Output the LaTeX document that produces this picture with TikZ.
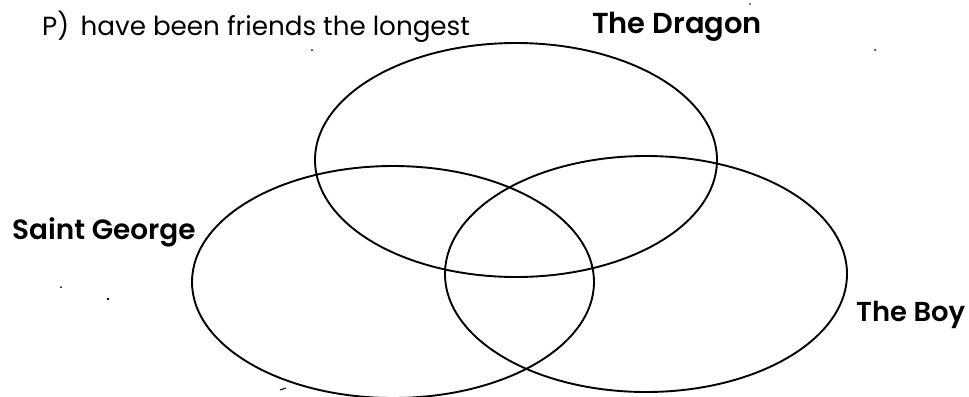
\documentclass[tikz,border=0pt]{standalone}
\usepackage{fontspec}
\setmainfont{Poppins}
\newfontfamily\lblfont{Poppins SemiBold}
\begin{document}
\begin{tikzpicture}[x=1bp,y=-1bp,
  venn/.style={line width=1.9bp,black},
  title/.style={font=\fontsize{26.3}{30}\selectfont,anchor=base west,inner sep=0pt},
  setlabel/.style={font=\lblfont\fontsize{28}{32}\selectfont,anchor=base west,inner sep=0pt},
  speck/.style={fill=black}]
\useasboundingbox (0,0) rectangle (969,396);
\clip (0,0) rectangle (969,396);
\fill[white] (0,0) rectangle (969,396);
% circles
\draw[venn] (516,160) ellipse [x radius=201, y radius=117];
\draw[venn] (393,282) ellipse [x radius=201, y radius=116];
\draw[venn] (646,274) ellipse [x radius=201, y radius=118];
% texts
\node[title] (q) at (42,35) {P)\, have been friends the longest};
\node[setlabel,font=\lblfont\fontsize{29}{32}\selectfont] (dragon) at (592,33) {The Dragon};
\node[setlabel] (george) at (12,239) {Saint George};
\node[setlabel,font=\lblfont\fontsize{27.5}{32}\selectfont] (boy) at (856,321) {The Boy};
% specks
\fill[speck] (312,50) circle (1bp);
\fill[speck] (750,4) circle (0.8bp);
\fill[speck] (875,50) circle (1bp);
\fill[speck] (61,287) circle (1bp);
\fill[speck] (108,299) circle (1.4bp);
\draw[line width=1bp] (280,390) -- (286,388);
\end{tikzpicture}
\end{document}
